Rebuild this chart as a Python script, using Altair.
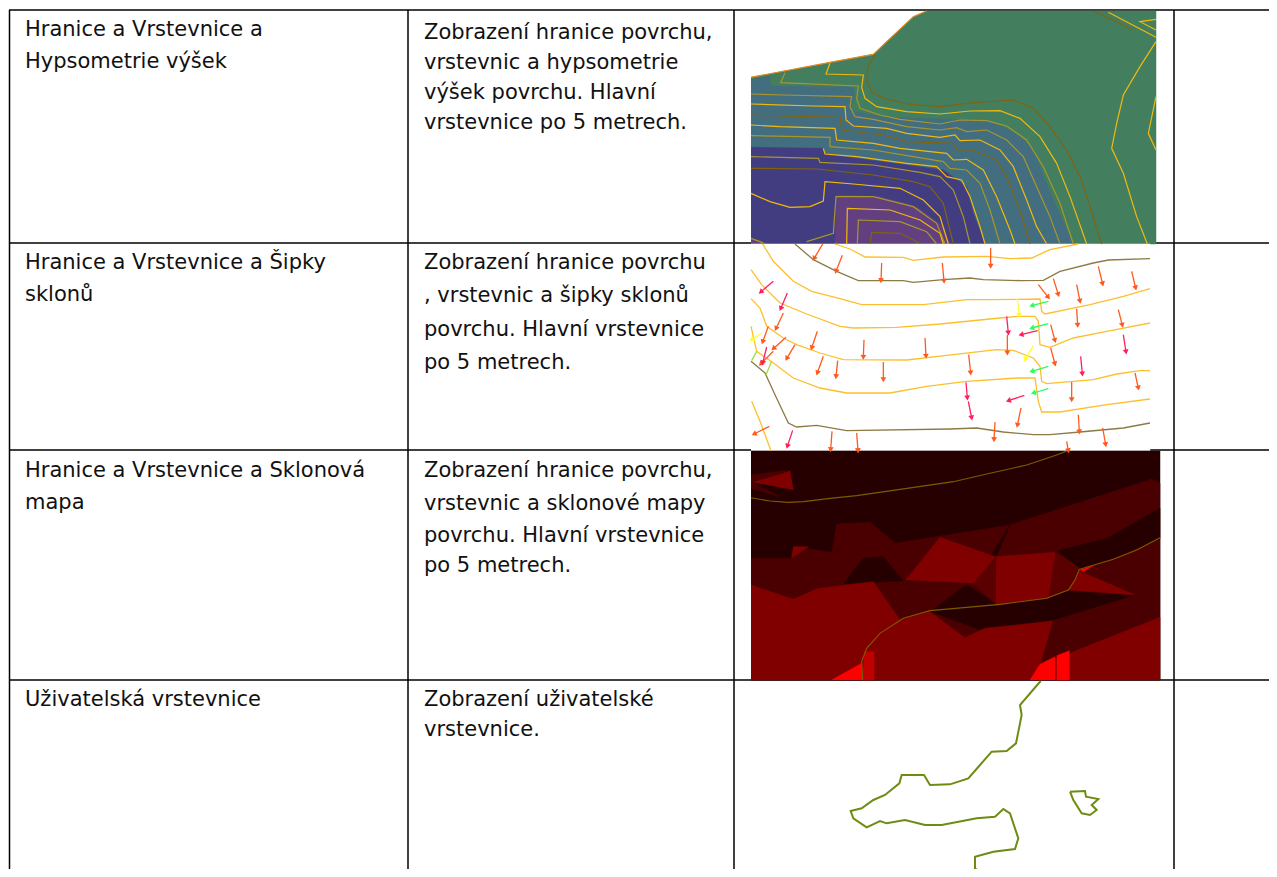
import math
import altair as alt
import pandas as pd

# ---------- table text ----------
col1_x, col2_x = 25, 424
row_text = [
    (col1_x, 29, "Hranice a Vrstevnice a"), (col1_x, 61, "Hypsometrie výšek"),
    (col2_x, 32, "Zobrazení hranice povrchu,"), (col2_x, 62, "vrstevnic a hypsometrie"),
    (col2_x, 92, "výšek povrchu. Hlavní"), (col2_x, 122, "vrstevnice po 5 metrech."),
    (col1_x, 262, "Hranice a Vrstevnice a Šipky"), (col1_x, 294, "sklonů"),
    (col2_x, 262, "Zobrazení hranice povrchu"), (col2_x, 295, ", vrstevnic a šipky sklonů"),
    (col2_x, 329, "povrchu. Hlavní vrstevnice"), (col2_x, 362, "po 5 metrech."),
    (col1_x, 470, "Hranice a Vrstevnice a Sklonová"), (col1_x, 502, "mapa"),
    (col2_x, 470, "Zobrazení hranice povrchu,"), (col2_x, 503, "vrstevnic a sklonové mapy"),
    (col2_x, 535, "povrchu. Hlavní vrstevnice"), (col2_x, 565, "po 5 metrech."),
    (col1_x, 699, "Uživatelská vrstevnice"),
    (col2_x, 699, "Zobrazení uživatelské"), (col2_x, 729, "vrstevnice."),
]
grid_v = [9.5, 408, 734, 1174]
grid_h = [10, 243, 450, 680]

# ---------- panel 1 : hypsometry (values in 3x crop units from 740,0) ----------
P1 = (740, 0)
GREEN, TEAL, INDIGO, PURPLE = "#437f5f", "#426e80", "#423d80", "#624080"
YEL, OLV, DRK, ORG = "#f2b90c", "#a8962a", "#7f6410", "#e8861a"
p1_polys = [
    (GREEN, [(33,232),(400,163),(520,50),(560,33),(1248,33),(1248,732),(33,732)]),
    (TEAL, [(33,240),(90,228),(90,258),(340,262),(345,290),(330,330),(420,350),(740,362),(830,400),(880,450),(940,600),(1000,732),(33,732)]),
    (INDIGO, [(33,442),(250,445),(255,462),(610,510),(680,560),(700,640),(735,732),(33,732)]),
    (PURPLE, [(285,732),(290,585),(420,590),(530,620),(610,680),(630,732)]),
    (PURPLE, [(33,715),(60,722),(80,732),(33,732)]),
]
p1_lines = [
    (ORG, [(33,232),(270,187),(400,163),(440,125),(520,50),(560,33)]),
    (DRK, [(405,163),(385,200),(380,240),(395,275),(430,295),(500,312),(600,320),(700,308),(820,300),(880,325),(930,380),(980,450),(1020,530),(1050,620),(1085,732)]),
    (YEL, [(270,190),(258,222),(370,225),(365,262),(375,295),(410,320),(500,335),(600,342),(690,333),(780,332),(840,355),(900,410),(950,490),(990,590),(1040,732)]),
    (OLV, [(135,218),(122,248),(355,258),(350,295),(360,325),(420,345),(480,358),(600,372),(660,360),(740,362),(800,378),(860,420),(910,500),(960,610),(1000,732)]),
    (OLV, [(33,282),(130,285),(335,290),(330,320),(345,350),(400,358),(500,380),(600,390),(650,383),(680,395),(740,390),(800,420),(850,470),(890,560),(930,650),(960,732)]),
    (YEL, [(33,312),(220,318),(315,320),(318,360),(340,378),(440,385),(500,400),(600,412),(645,405),(660,422),(720,420),(780,450),(820,500),(860,600),(890,680),(920,732)]),
    (DRK, [(33,345),(300,352),(305,390),(430,405),(500,425),(640,430),(650,450),(700,450),(770,480),(800,530),(840,630),(870,732)]),
    (YEL, [(33,375),(120,380),(285,385),(290,420),(400,430),(480,445),(620,460),(640,480),(680,478),(730,510),(770,590),(810,690),(825,732)]),
    (OLV, [(33,407),(180,410),(270,412),(270,440),(400,450),(520,470),(610,485),(630,505),(680,510),(720,550),(750,630),(780,732)]),
    (YEL, [(250,445),(255,462),(350,470),(500,490),(590,500),(620,530),(665,540),(690,590),(720,680),(735,732)]),
    (OLV, [(33,470),(235,475),(240,487),(400,495),(540,517),(600,530),(640,570),(670,650),(690,732)]),
    (DRK, [(33,505),(230,507),(400,525),(520,545),(570,560),(610,610),(640,732)]),
    (YEL, [(33,580),(90,605),(150,622),(210,620),(250,603),(255,545),(340,552),(480,565),(550,600),(600,650),(625,732)]),
    (OLV, [(200,725),(280,700),(288,590),(400,590),(520,620),(590,670),(615,732)]),
    (YEL, [(320,732),(322,625),(450,630),(540,660),(600,700),(610,732)]),
    (OLV, [(352,732),(355,660),(480,665),(560,695),(590,732)]),
    (DRK, [(390,732),(395,697),(480,700),(540,730)]),
    (OLV, [(33,715),(60,725),(75,732)]),
    (YEL, [(1248,125),(1200,200),(1150,285),(1130,370),(1115,445),(1150,520),(1190,650),(1222,732)]),
    (DRK, [(1060,33),(1175,88)]),
    (YEL, [(1105,37),(1248,112)]),
    (YEL, [(1248,58),(1200,65),(1248,90)]),
    (YEL, [(1248,290),(1225,400),(1248,450)]),
]

# ---------- panel 2 : slope arrows (3x crop units from 740,238) ----------
P2 = (740, 238)
C2, B2, LIME = "#fdbf2d", "#8d7a45", "#9be040"
p2_polys = [("#ffffff", [(33,18),(1230,18),(1230,638),(33,638)])]
p2_lines = [
    (C2, [(285,18),(330,33),(375,57),(490,58),(520,67),(610,57),(740,55),(810,62),(875,60),(930,35),(1015,18)]),
    (B2, [(165,18),(220,65),(290,100),(355,128),(490,128),(520,133),(610,125),(690,120),(730,125),(845,128),(910,127),(960,100),(1060,75),(1105,66),(1230,62)]),
    (C2, [(68,18),(100,70),(160,130),(215,160),(300,182),(365,200),(550,200),(680,185),(750,185),(900,183),(905,220),(915,228),(1050,200),(1150,175),(1230,152)]),
    (C2, [(33,95),(65,140),(120,195),(200,228),(300,265),(340,270),(470,268),(600,258),(780,240),(835,235),(885,235),(895,250),(900,320),(930,328),(1000,300),(1100,280),(1230,255)]),
    (C2, [(33,182),(60,210),(80,265),(130,300),(170,320),(240,345),(310,365),(500,366),(620,352),(770,335),(820,337),(880,360),(900,385),(905,430),(920,437),(1060,425),(1130,408),(1200,398),(1230,398)]),
    (C2, [(33,265),(50,340),(100,375),(160,420),(240,450),(320,465),(450,465),(560,445),(680,430),(830,420),(885,420),(895,490),(905,522),(960,522),(1100,500),(1230,483)]),
    (B2, [(33,370),(75,405),(105,470),(145,555),(170,567),(230,562),(320,578),(630,573),(710,570),(790,582),(880,590),(930,590),(1020,582),(1150,570),(1230,555)]),
    (C2, [(35,490),(60,550),(93,638)]),
    (LIME, [(35,368),(50,340)]),
    (LIME, [(78,410),(95,370)]),
]
ORANGE_ARROW, PINK_ARROW, GREEN_ARROW, YELLOW_ARROW = "#ff5a1e", "#ff1f5a", "#2aff5a", "#ffff30"
arrows_orange = [
    (248,18,222,62),(307,52,288,100),(425,75,423,128),(607,75,612,130),(752,30,752,85),
    (1075,85,1088,138),(1175,100,1187,150),(940,122,955,170),(895,140,925,178),(1010,140,1020,190),
    (1010,212,1013,262),(1135,215,1147,262),(130,225,108,272),(85,265,68,312),(138,298,100,332),
    (165,320,140,362),(232,280,215,330),(250,355,232,405),(293,368,288,416),(372,305,370,358),
    (430,372,430,425),(555,300,558,355),(686,350,692,405),(802,290,802,345),(932,260,945,308),
    (932,330,945,378),(995,432,995,485),(1185,405,1195,450),(843,510,832,562),(1015,530,1018,582),
    (765,552,762,605),(1088,570,1097,620),(88,565,42,588),(276,580,272,635),(350,585,354,638),
    (980,610,985,638),(100,340,62,378),
]
arrows_pink = [
    (100,130,62,162),(142,165,122,212),(80,327,68,375),(800,235,805,285),(893,278,843,290),
    (1150,290,1158,342),(1022,355,1027,408),(678,433,682,480),(685,490,695,540),(853,472,805,488),
    (158,577,142,625),
]
arrows_green = [(925,190,875,203),(925,257,875,270),(925,385,875,400),(925,452,880,465)]
arrows_yellow = [(832,182,838,232),(880,323,855,365),(65,285,35,305)]

# ---------- panel 3 : slope map (3x crop units from 740,445) ----------
P3 = (740, 445)
D0, D1, D2, D3, D4 = "#260000", "#4a0000", "#800000", "#ff0000", "#c00000"
p3_polys = [
    (D0, [(33,18),(1260,18),(1260,705),(33,705)]),
    (D1, [(33,340),(152,340),(160,305),(275,322),(290,237),(390,232),(465,295),(810,240),(1235,102),(1260,115),(1260,705),(33,705)]),
    (D0, [(950,318),(1100,280),(1260,190),(1260,280),(1120,340),(1020,370)]),
    (D0, [(310,418),(368,340),(430,335),(490,408)]),
    (D0, [(750,335),(810,240),(770,333)]),
    (D0, [(570,500),(680,418),(770,478),(930,455),(985,435),(1185,450),(940,525),(720,555)]),
    ("#5a0000", [(700,415),(765,335),(768,478)]),
    ("#5a0000", [(925,460),(945,322),(1018,370),(985,435)]),
    (D2, [(497,405),(600,277),(765,335),(700,415)]),
    (D2, [(768,335),(945,322),(925,460),(768,478)]),
    (D2, [(33,420),(160,463),(235,430),(400,410),(480,525),(570,500),(675,578),(735,550),(938,528),(900,660),(870,705),(33,705)]),
    (D2, [(900,660),(1260,517),(1260,705),(870,705)]),
    (D2, [(1018,378),(1185,450),(985,435)]),
    (D1, [(33,90),(145,75),(40,115),(120,155),(33,130)]),
    (D2, [(40,112),(150,78),(160,135)]),
    (D2, [(160,305),(205,305),(155,338)]),
    (D4, [(372,620),(402,620),(402,705),(368,705)]),
    (D3, [(275,705),(365,655),(368,705)]),
    (D3, [(870,705),(900,658),(945,635),(945,705)]),
    (D3, [(950,632),(988,617),(988,705),(950,705)]),
    (D3, [(1020,375),(1060,362),(1030,380)]),
]
T3 = "#7d5a00"
p3_lines = [
    (T3, [(33,158),(90,168),(145,172),(190,170),(270,160),(350,152),(480,133),(640,110),(750,85),(860,60),(950,30),(980,18)]),
    (T3, [(368,705),(365,650),(380,610),(420,565),(490,520),(570,497),(680,487),(780,478),(920,460),(985,435),(1005,405),(1018,373),(1120,343),(1190,315),(1260,278)]),
]

# ---------- panel 4 : user contour (3x crop units from 830,675) ----------
P4 = (830, 675)
U4 = "#6e8c14"
p4_lines = [
    (U4, [(632,18),(570,90),(575,120),(565,170),(558,205),(530,228),(485,230),(450,270),(415,310),(360,328),(300,330),(282,300),(215,300),(208,325),(165,360),(130,375),(95,400),(62,408),(70,430),(110,457),(150,438),(170,445),(225,435),(285,450),(335,450),(440,430),(495,425),(520,402),(540,415),(565,490),(555,522),(490,530),(435,545),(435,580),(450,592),(500,593),(530,605)]),
    (U4, [(720,350),(765,348),(768,365),(805,372),(785,390),(800,405),(780,420),(755,415),(730,375),(720,350)]),
]

# ---------- build tables ----------
def rows(items, origin, width):
    out = []
    for c, pts in items:
        rows.n += 1
        for k, (zx, zy) in enumerate(pts):
            out.append(dict(id=rows.n, seq=k, x=origin[0] + zx / 3, y=origin[1] + zy / 3, c=c, w=width))
    return out
rows.n = 0

poly_df = pd.DataFrame(rows(p1_polys, P1, 0.5) + rows(p2_polys, P2, 0.5) + rows(p3_polys, P3, 0.5))
line_df = pd.DataFrame(rows(p1_lines, P1, 1.2) + rows(p2_lines, P2, 1.3) + rows(p3_lines, P3, 1.1) + rows(p4_lines, P4, 2.0))

arrow_rows = []
for c, lst in [(ORANGE_ARROW, arrows_orange), (PINK_ARROW, arrows_pink), (GREEN_ARROW, arrows_green), (YELLOW_ARROW, arrows_yellow)]:
    for a, b, e, f in lst:
        dx, dy = e - a, f - b
        arrow_rows.append(dict(x=P2[0] + a / 3, y=P2[1] + b / 3, x2=P2[0] + e / 3, y2=P2[1] + f / 3,
                               c=c, a=(math.degrees(math.atan2(dx, -dy)) + 360) % 360))
arrow_df = pd.DataFrame(arrow_rows)

grid_df = pd.DataFrame(
    [dict(x=v, y=10, x2=v, y2=877) for v in grid_v] + [dict(x=9, y=h, x2=1277, y2=h) for h in grid_h]
)
text_df = pd.DataFrame(row_text, columns=["x", "y", "t"])

DOM_X, DOM_Y = [8, 1269], [869, 8]
X = alt.X("x:Q", scale=alt.Scale(domain=DOM_X, nice=False, zero=False), axis=None)
Y = alt.Y("y:Q", scale=alt.Scale(domain=DOM_Y, nice=False, zero=False), axis=None)

grid = alt.Chart(grid_df).mark_rule(color="#000000", strokeWidth=1.5).encode(X, Y, x2="x2:Q", y2="y2:Q")
polys = alt.Chart(poly_df).mark_line(interpolate="linear").encode(
    X, Y, detail="id:N", order="seq:Q",
    fill=alt.Fill("c:N", scale=None), stroke=alt.Stroke("c:N", scale=None),
    strokeWidth=alt.StrokeWidth("w:Q", scale=None),
)
lines = alt.Chart(line_df).mark_line(interpolate="linear").encode(
    X, Y, detail="id:N", order="seq:Q",
    stroke=alt.Stroke("c:N", scale=None), strokeWidth=alt.StrokeWidth("w:Q", scale=None),
)
shafts = alt.Chart(arrow_df).mark_rule(strokeWidth=1.3).encode(
    X, Y, x2="x2:Q", y2="y2:Q", color=alt.Color("c:N", scale=None)
)
heads = alt.Chart(arrow_df).mark_point(shape="triangle-up", filled=True, size=34, opacity=1).encode(
    x=alt.X("x2:Q", scale=alt.Scale(domain=DOM_X, nice=False, zero=False), axis=None),
    y=alt.Y("y2:Q", scale=alt.Scale(domain=DOM_Y, nice=False, zero=False), axis=None),
    color=alt.Color("c:N", scale=None),
    angle=alt.Angle("a:Q", scale=None),
)
labels = alt.Chart(text_df).mark_text(align="left", baseline="middle", font="DejaVu Sans", fontSize=21, dy=1, color="#111111").encode(
    X, Y, text="t:N"
)

chart = alt.layer(grid, polys, lines, shafts, heads, labels).properties(
    width=1261, height=861, padding=0, background="#ffffff",
    autosize=alt.AutoSizeParams(type="none"),
).configure_view(stroke=None)

chart.save("out.html", embed_options={"renderer": "svg", "actions": False})
